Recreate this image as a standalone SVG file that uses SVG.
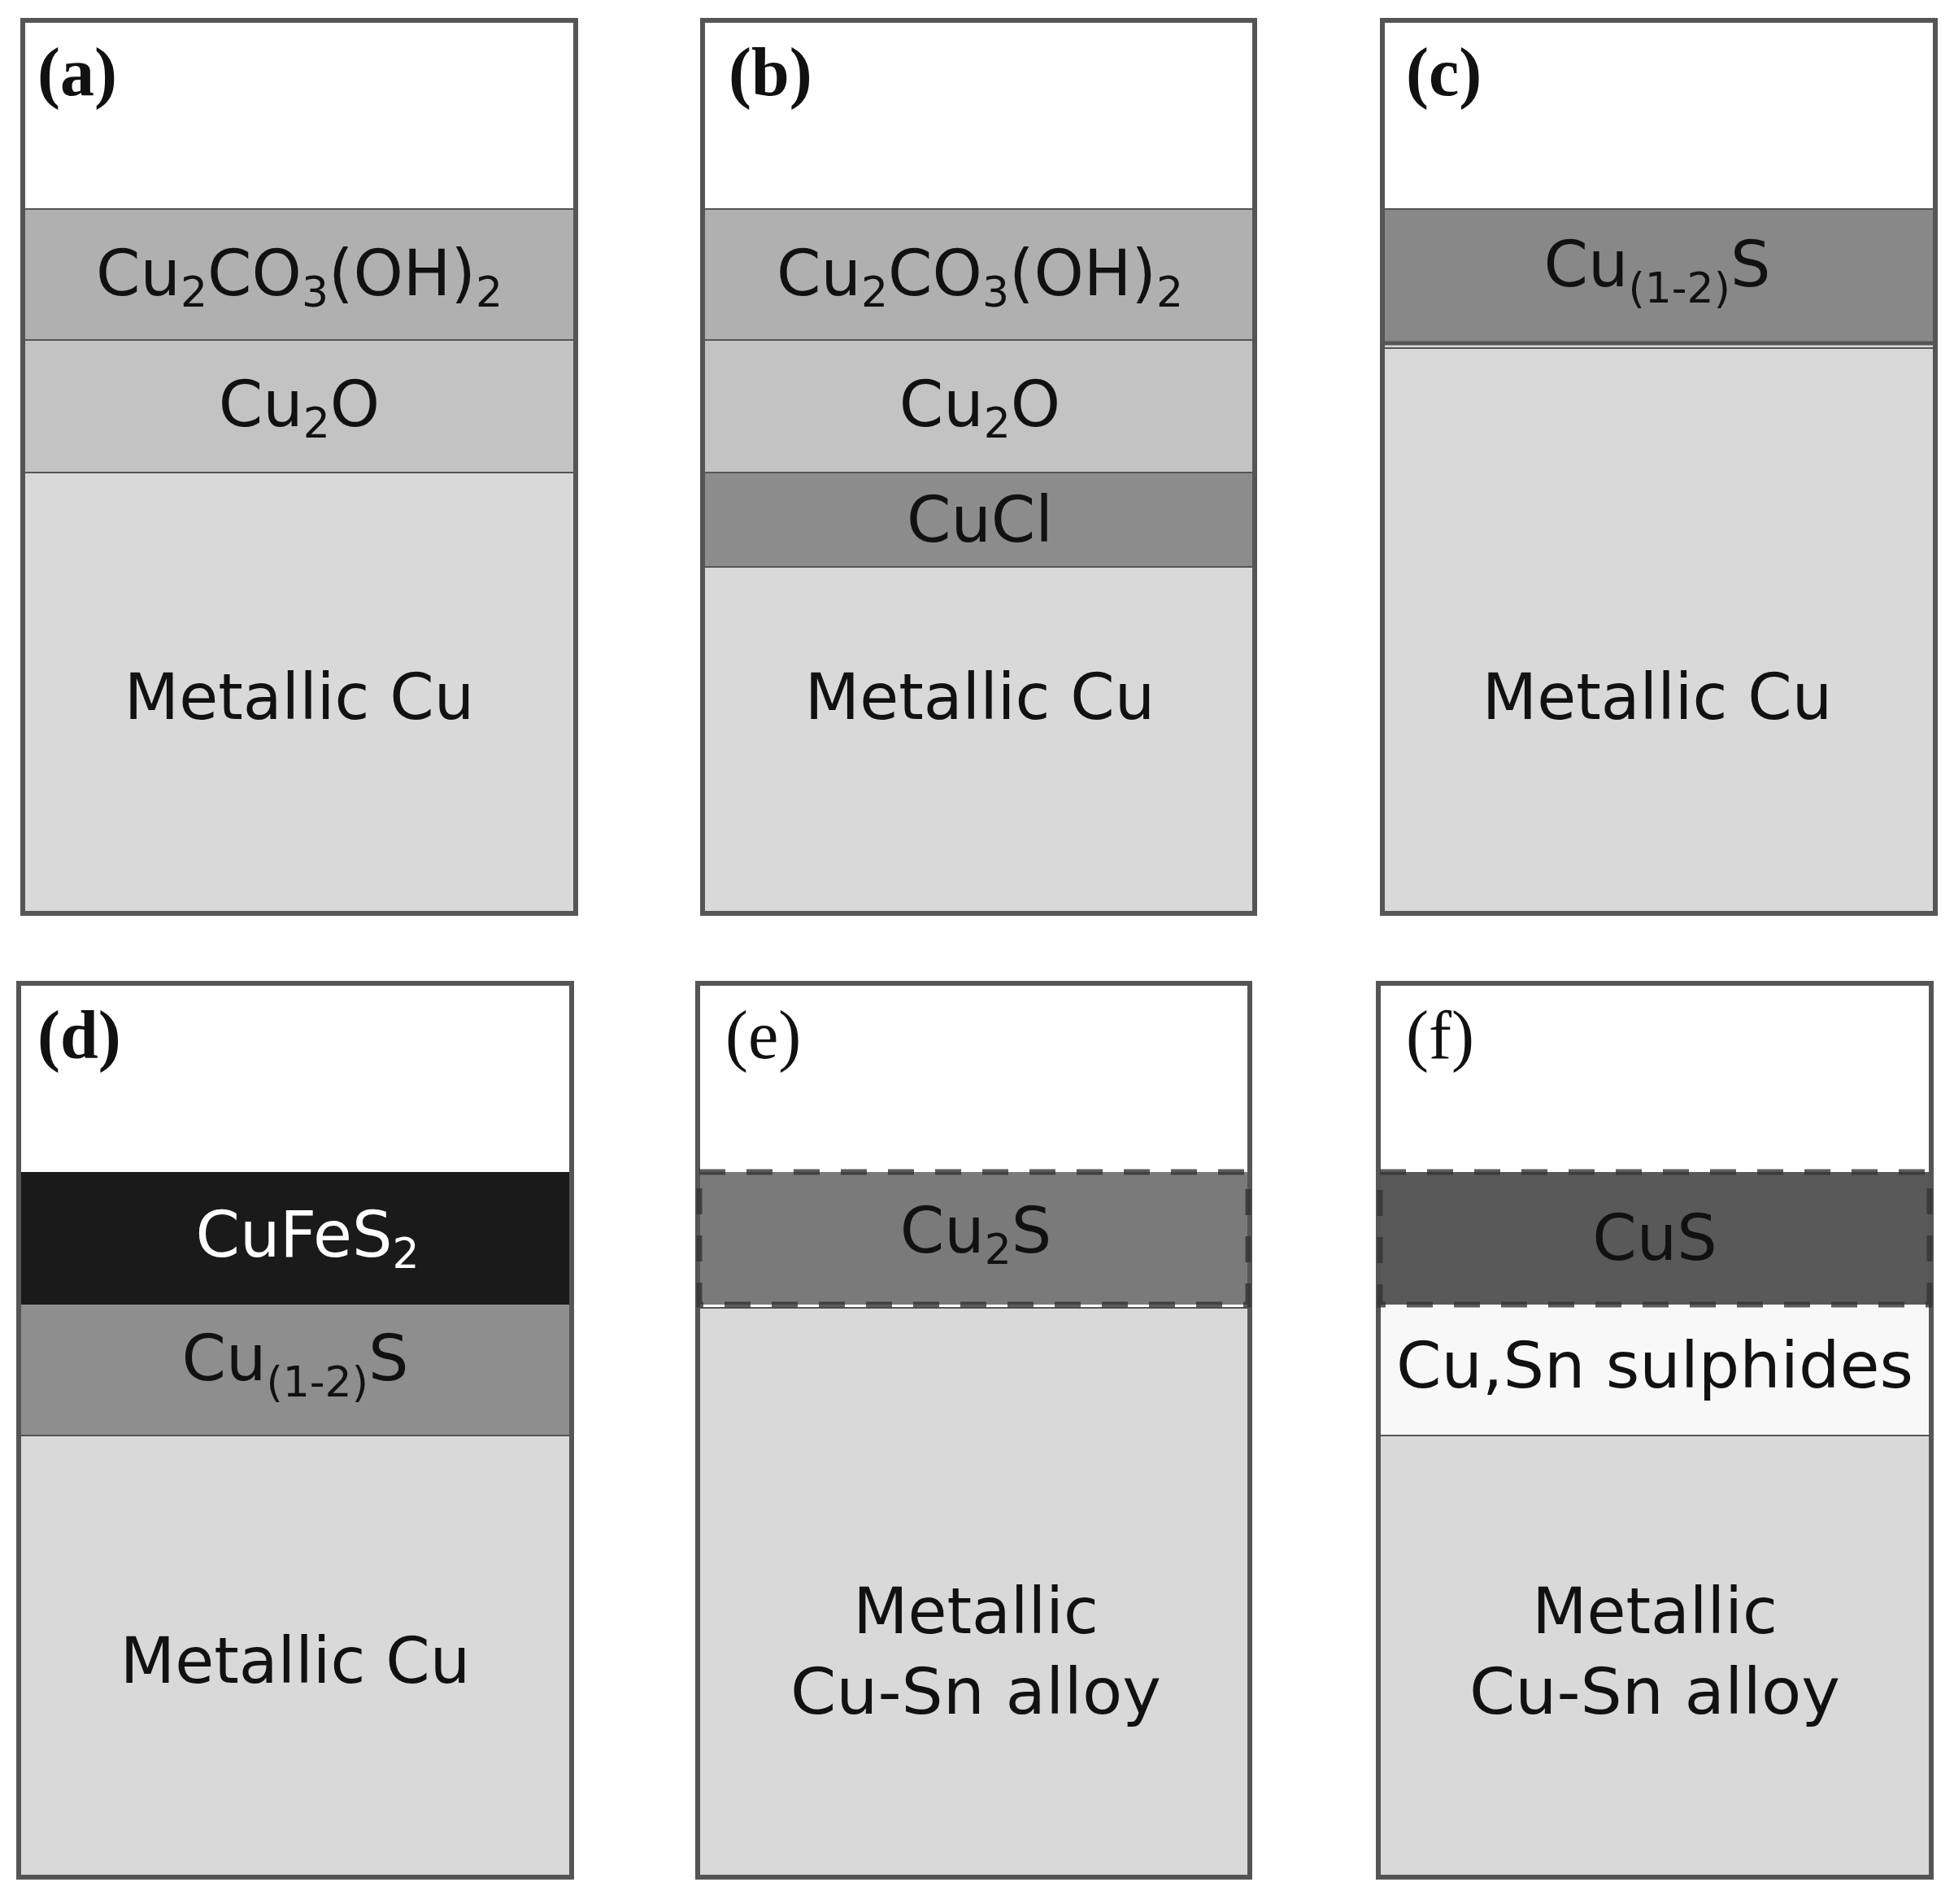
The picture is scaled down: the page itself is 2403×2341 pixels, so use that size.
<svg xmlns="http://www.w3.org/2000/svg" width="2403" height="2341" viewBox="0 0 2403 2341">
<style>
.t{font-family:"DejaVu Sans",Verdana,sans-serif;font-size:78px;fill:#111;text-anchor:middle}
.s{font-size:52px}
.lb{font-family:"Liberation Serif","Times New Roman",serif;font-size:84px;fill:#111}
.b{font-weight:bold}
.box{fill:none;stroke:#555;stroke-width:6}
.ln{stroke:#555;stroke-width:2}
.dash{fill:none;stroke:#333;stroke-width:7;stroke-dasharray:32 26;opacity:.8}
</style>
<rect width="2403" height="2341" fill="#fff"/>
<g id="a">
<rect x="28" y="257" width="680" height="161" fill="#b0b0b0"/>
<rect x="28" y="418" width="680" height="163" fill="#c3c3c3"/>
<rect x="28" y="581" width="680" height="542" fill="#d9d9d9"/>
<line class="ln" x1="28" y1="257" x2="708" y2="257"/><line class="ln" x1="28" y1="418" x2="708" y2="418"/><line class="ln" x1="28" y1="581" x2="708" y2="581"/>
<rect class="box" x="28" y="25" width="680" height="1098"/>
<text class="lb b" x="46" y="117">(a)</text>
<text class="t" x="368" y="363">Cu<tspan class="s" dy="14">2</tspan><tspan dy="-14">CO</tspan><tspan class="s" dy="14">3</tspan><tspan dy="-14">(OH)</tspan><tspan class="s" dy="14">2</tspan></text>
<text class="t" x="368" y="524">Cu<tspan class="s" dy="14">2</tspan><tspan dy="-14">O</tspan></text>
<text class="t" x="368" y="884">Metallic Cu</text>
</g>
<g id="b">
<rect x="864" y="257" width="679" height="161" fill="#b0b0b0"/>
<rect x="864" y="418" width="679" height="163" fill="#c3c3c3"/>
<rect x="864" y="581" width="679" height="116" fill="#8c8c8c"/>
<rect x="864" y="697" width="679" height="426" fill="#d9d9d9"/>
<line class="ln" x1="864" y1="257" x2="1543" y2="257"/><line class="ln" x1="864" y1="418" x2="1543" y2="418"/><line class="ln" x1="864" y1="581" x2="1543" y2="581"/><line class="ln" x1="864" y1="697" x2="1543" y2="697"/>
<rect class="box" x="864" y="25" width="679" height="1098"/>
<text class="lb b" x="896" y="117">(b)</text>
<text class="t" x="1205" y="363">Cu<tspan class="s" dy="14">2</tspan><tspan dy="-14">CO</tspan><tspan class="s" dy="14">3</tspan><tspan dy="-14">(OH)</tspan><tspan class="s" dy="14">2</tspan></text>
<text class="t" x="1205" y="524">Cu<tspan class="s" dy="14">2</tspan><tspan dy="-14">O</tspan></text>
<text class="t" x="1205" y="666">CuCl</text>
<text class="t" x="1205" y="884">Metallic Cu</text>
</g>
<g id="c">
<rect x="1700" y="257" width="680" height="167" fill="#888"/>
<rect x="1700" y="424" width="680" height="699" fill="#d9d9d9"/>
<line class="ln" x1="1700" y1="257" x2="2380" y2="257"/><line x1="1700" y1="422" x2="2380" y2="422" stroke="#555" stroke-width="5"/><line class="ln" x1="1700" y1="428" x2="2380" y2="428" stroke="#888"/>
<rect class="box" x="1700" y="25" width="680" height="1098"/>
<text class="lb b" x="1729" y="117">(c)</text>
<text class="t" x="2038" y="352">Cu<tspan class="s" dy="20">(1-2)</tspan><tspan dy="-20">S</tspan></text>
<text class="t" x="2038" y="884">Metallic Cu</text>
</g>
<g id="d">
<rect x="23" y="1441" width="680" height="163" fill="#1a1a1a"/>
<rect x="23" y="1604" width="680" height="161" fill="#8e8e8e"/>
<rect x="23" y="1765" width="680" height="543" fill="#d9d9d9"/>
<line class="ln" x1="23" y1="1765" x2="703" y2="1765"/>
<rect class="box" x="23" y="1209" width="680" height="1099"/>
<text class="lb b" x="46" y="1301">(d)</text>
<text class="t" x="378" y="1545" style="fill:#fff">CuFeS<tspan class="s" dy="14">2</tspan></text>
<text class="t" x="363" y="1697">Cu<tspan class="s" dy="20">(1-2)</tspan><tspan dy="-20">S</tspan></text>
<text class="t" x="363" y="2069">Metallic Cu</text>
</g>
<g id="e">
<rect x="858" y="1441" width="679" height="163" fill="#7a7a7a"/>
<rect x="858" y="1608" width="679" height="700" fill="#d9d9d9"/>
<line class="ln" x1="858" y1="1608" x2="1537" y2="1608"/>
<rect class="box" x="858" y="1209" width="679" height="1099"/>
<rect class="dash" x="860" y="1441" width="675" height="163"/>
<text class="lb" x="892" y="1301">(e)</text>
<text class="t" x="1200" y="1540">Cu<tspan class="s" dy="14">2</tspan><tspan dy="-14">S</tspan></text>
<text class="t" x="1200" y="2008">Metallic</text>
<text class="t" x="1200" y="2107" textLength="456" lengthAdjust="spacingAndGlyphs">Cu-Sn alloy</text>
</g>
<g id="f">
<rect x="1695" y="1441" width="680" height="163" fill="#595959"/>
<rect x="1695" y="1604" width="680" height="161" fill="#f8f8f8"/>
<rect x="1695" y="1765" width="680" height="543" fill="#d9d9d9"/>
<line class="ln" x1="1695" y1="1765" x2="2375" y2="1765"/>
<rect class="box" x="1695" y="1209" width="680" height="1099"/>
<rect class="dash" x="1697" y="1441" width="676" height="163"/>
<text class="lb" x="1729" y="1301">(f)</text>
<text class="t" x="2035" y="1549">CuS</text>
<text class="t" x="2035" y="1706" textLength="636" lengthAdjust="spacingAndGlyphs">Cu,Sn sulphides</text>
<text class="t" x="2035" y="2008">Metallic</text>
<text class="t" x="2035" y="2107" textLength="456" lengthAdjust="spacingAndGlyphs">Cu-Sn alloy</text>
</g>
</svg>
